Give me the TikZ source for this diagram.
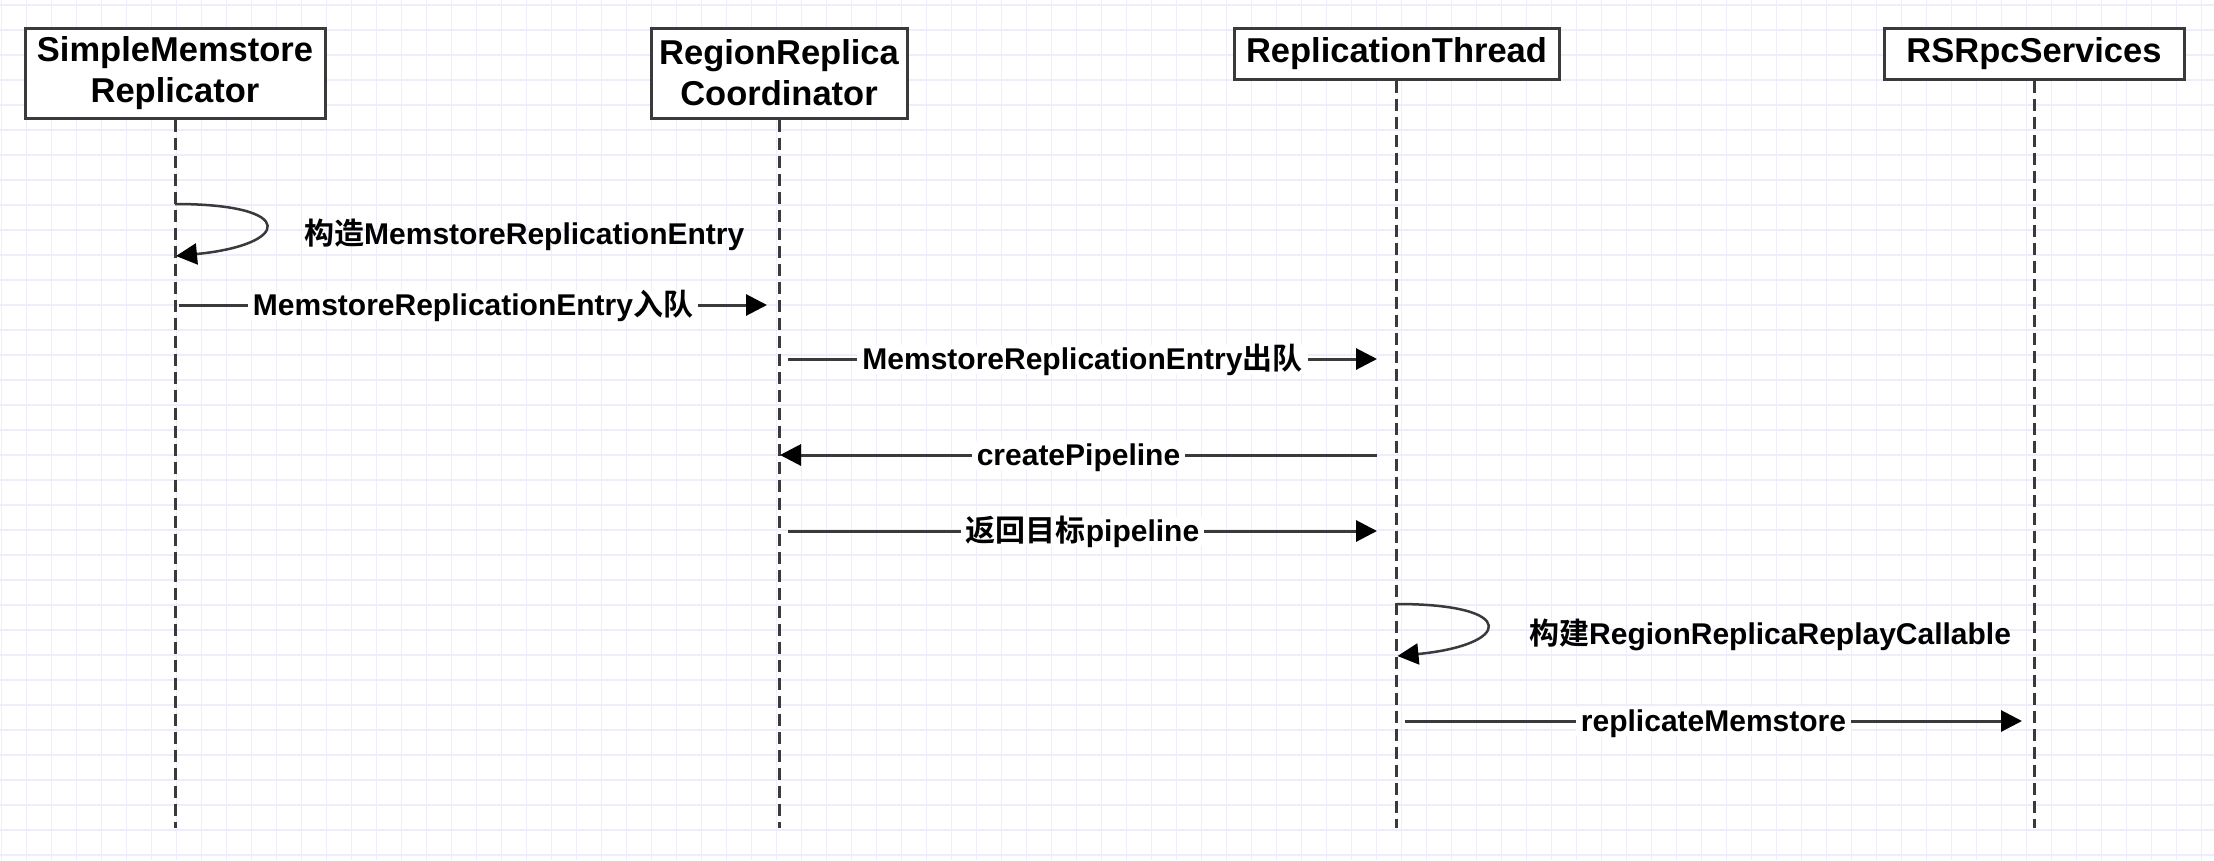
\documentclass[tikz,border=0pt]{standalone}
\usepackage{fontspec}
\setmainfont{Liberation Sans}
\newfontfamily\cjk{Noto Sans CJK SC}[BoldFont={Noto Sans CJK SC Bold}]
\usetikzlibrary{arrows.meta}
\definecolor{gridc}{HTML}{EEEDFC}
\definecolor{linec}{HTML}{3A3A3A}
\tikzset{
 header/.style={draw=linec, line width=3pt, fill=white, inner sep=0pt, align=center, font=\fontsize{34.5}{41}\selectfont\bfseries},
 lifeline/.style={draw=linec, line width=3pt, dash pattern=on 12pt off 6pt},
 tip/.style={-{Triangle[length=21pt,width=21pt,color=black]}},
 msg/.style={draw=linec, line width=3pt, tip},
 loopmsg/.style={draw=linec, line width=2.5pt, tip},
 msglabel/.style={fill=white, inner xsep=5pt, inner ysep=0pt, text height=25pt, text depth=4pt, font=\fontsize{30}{36}\selectfont\bfseries},
 looplabel/.style={inner sep=0pt, anchor=base west, font=\fontsize{30}{36}\selectfont\bfseries},
 gridline/.style={draw=gridc, line width=1.3pt},
}
\begin{document}
\begin{tikzpicture}[x=1pt,y=-1pt]
\useasboundingbox (0,0) rectangle (2214,860);
\fill[white] (0,0) rectangle (2214,860);
\foreach \i in {0,...,88} \draw[gridline] ({1.7+25*\i},0) -- ({1.7+25*\i},860);
\foreach \j in {0,...,34} \draw[gridline] (0,{5+25*\j}) -- (2214,{5+25*\j});

% lifeline ends
\coordinate (e1) at (175,828);
\coordinate (e2) at (779,828);
\coordinate (e3) at (1396.5,828);
\coordinate (e4) at (2034,828);

% headers
\node[header, minimum width=300pt, minimum height=90pt] (h1) at (175,73) {SimpleMemstore\\Replicator};
\node[header, minimum width=256pt, minimum height=90pt] (h2) at (779,73) {RegionReplica\\Coordinator};
\node[header, minimum width=325pt, minimum height=51pt] (h3) at (1396.5,53.5) {ReplicationThread};
\node[header, minimum width=300pt, minimum height=51pt] (h4) at (2034,53.5) {RSRpcServices};

\draw[lifeline] (h1.south) -- (e1);
\draw[lifeline] (h2.south) -- (e2);
\draw[lifeline] (h3.south) -- (e3);
\draw[lifeline] (h4.south) -- (e4);

% self loop 1
\coordinate (l1a) at (175,204);
\coordinate (l1b) at (176,256);
\draw[loopmsg] (l1a) .. controls (300,204) and (290,245) .. (l1b);
\node[looplabel] (t1) at (304,244) {{\cjk 构造}MemstoreReplicationEntry};

% message 2
\coordinate (m2a) at (179,305);
\coordinate (m2b) at (767,305);
\draw[msg] (m2a) -- node[msglabel] (t2) {MemstoreReplicationEntry{\cjk 入队}} (m2b);

% message 3
\coordinate (m3a) at (788,359);
\coordinate (m3b) at (1377,359);
\draw[msg] (m3a) -- node[msglabel] (t3) {MemstoreReplicationEntry{\cjk 出队}} (m3b);

% message 4
\coordinate (m4a) at (1377,455);
\coordinate (m4b) at (780,455);
\draw[msg] (m4a) -- node[msglabel] (t4) {createPipeline} (m4b);

% message 5
\coordinate (m5a) at (788,531);
\coordinate (m5b) at (1377,531);
\draw[msg] (m5a) -- node[msglabel] (t5) {{\cjk 返回目标}pipeline} (m5b);

% self loop 2
\coordinate (l2a) at (1396.5,604);
\coordinate (l2b) at (1397.5,656);
\draw[loopmsg] (l2a) .. controls (1521,604) and (1511,645) .. (l2b);
\node[looplabel] (t6) at (1529,644) {{\cjk 构建}RegionReplicaReplayCallable};

% message 7
\coordinate (m7a) at (1405,721);
\coordinate (m7b) at (2022,721);
\draw[msg] (m7a) -- node[msglabel] (t7) {replicateMemstore} (m7b);
\end{tikzpicture}
\end{document}
